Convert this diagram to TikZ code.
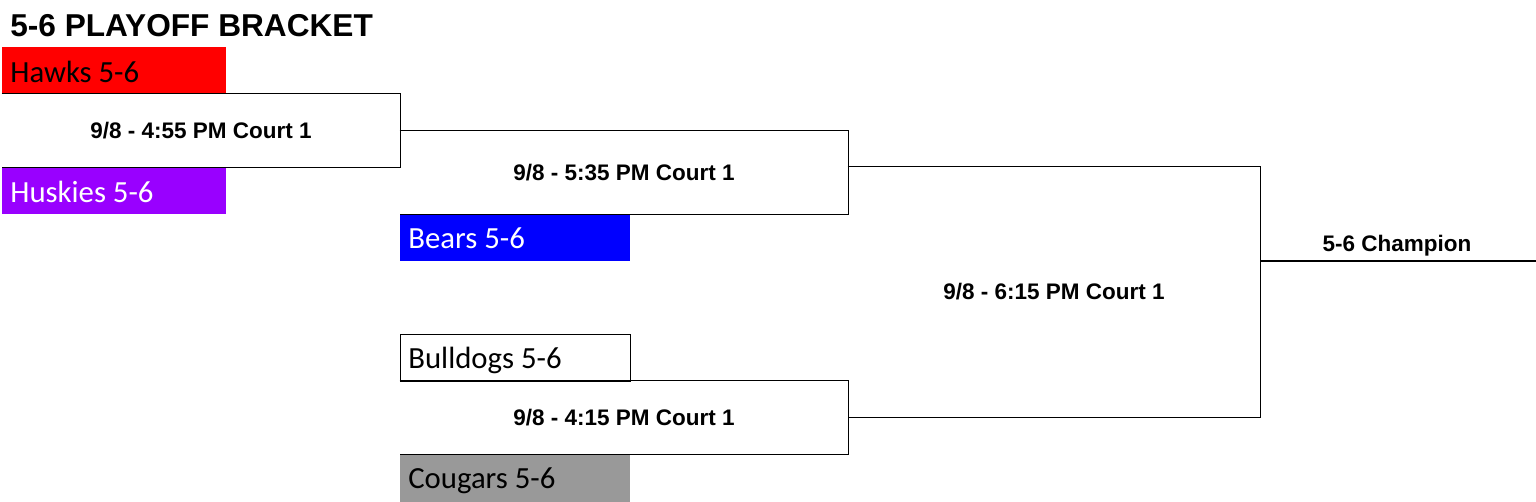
\documentclass[tikz,border=0pt]{standalone}
\usepackage{fontspec}
\setmainfont{Liberation Sans}
\newfontfamily\teamfont{Carlito}
\usepackage{xcolor}
\usetikzlibrary{positioning}

\definecolor{hawksred}{HTML}{FF0000}
\definecolor{huskiespurple}{HTML}{9900FF}
\definecolor{bearsblue}{HTML}{0000FF}
\definecolor{cougarsgray}{HTML}{999999}

\begin{document}
\begin{tikzpicture}[
    x=0.02cm, y=-0.02cm,
    team/.style={rectangle, anchor=north west, inner xsep=0.16cm, inner ysep=0pt, minimum height=0.94cm, minimum width=4.48cm, font=\teamfont\fontsize{17.5}{17.5}\selectfont},
    teamtext/.style={anchor=base west, inner sep=0pt, font=\teamfont\fontsize{17.5}{17.5}\selectfont},
    match/.style={rectangle, inner sep=0pt, font=\bfseries\fontsize{12.8}{14}\selectfont, text height=0.88em, text depth=0pt},
    wire/.style={draw=black, line width=0.8pt}
]
\useasboundingbox (0,0) rectangle (1536,502);

% Title
\node[anchor=base west, inner sep=0pt, font=\bfseries\fontsize{18}{18}\selectfont] (title) at (10,37) {5-6 PLAYOFF BRACKET};

% Teams
\node[team, fill=hawksred] (hawks) at (2,47) {};
\node[team, fill=huskiespurple] (huskies) at (2,167) {};
\node[team, fill=bearsblue, minimum width=4.6cm] (bears) at (400,214) {};
\node[team, draw=black, line width=0.8pt, minimum width=4.6cm] (bulldogs) at (400,334) {};
\node[team, fill=cougarsgray, minimum width=4.6cm, minimum height=0.96cm] (cougars) at (400,454) {};

\node[teamtext] (hawkstext) at ([shift={(8,11.5)}]hawks.west) {Hawks 5-6};
\node[teamtext, text=white] (huskiestext) at ([shift={(8,11.5)}]huskies.west) {Huskies 5-6};
\node[teamtext, text=white] (bearstext) at ([shift={(8,10.5)}]bears.west) {Bears 5-6};
\node[teamtext] (bulldogstext) at ([shift={(8,10)}]bulldogs.west) {Bulldogs 5-6};
\node[teamtext] (cougarstext) at ([shift={(8,10.5)}]cougars.west) {Cougars 5-6};

% Games
\node[match, minimum width=7.96cm, minimum height=1.46cm] (g455) at (201,130.5) {9/8 - 4:55 PM Court 1};
\node[match, minimum width=8.96cm, minimum height=1.66cm] (g535) at (624,172.5) {9/8 - 5:35 PM Court 1};
\node[match, minimum width=8.96cm, minimum height=1.46cm] (g415) at (624,417.5) {9/8 - 4:15 PM Court 1};
\node[match, minimum width=8.24cm, minimum height=5cm] (g615) at (1054,292) {9/8 - 6:15 PM Court 1};

% Winner
\node[match, anchor=base] (champ) at (1397,251.5) {5-6 Champion};
\coordinate (champend) at (1536,261);

% Brackets
\draw[wire] (g455.north west) -- (g455.north east) -- (g455.south east) -- (g455.south west);
\draw[wire] (g535.north west) -- (g535.north east) -- (g535.south east) -- (g535.south west);
\draw[wire] (g415.north west) -- (g415.north east) -- (g415.south east) -- (g415.south west);
\draw[wire] (g615.north west) -- (g615.north east) -- (g615.south east) -- (g615.south west);
\draw[wire] (g615.north east |- champend) -- (champend);

\end{tikzpicture}
\end{document}
